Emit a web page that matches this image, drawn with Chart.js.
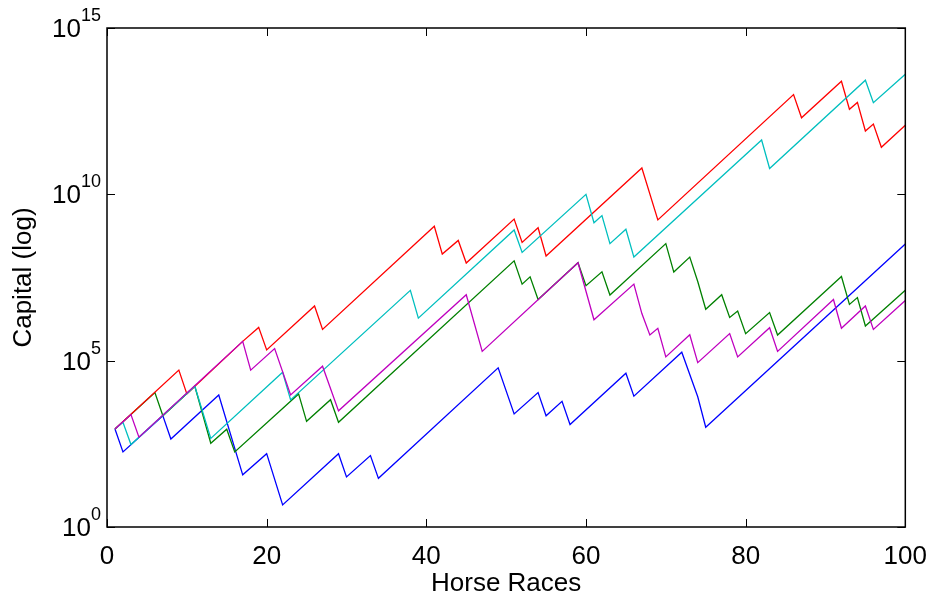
<!DOCTYPE html>
<html>
<head>
<meta charset="utf-8">
<script src="https://cdn.jsdelivr.net/npm/chart.js@4.4.0/dist/chart.umd.min.js"></script>
<style>
  html, body { margin: 0; padding: 0; background: #fff; }
  #wrap { width: 933px; height: 599px; }
</style>
</head>
<body>
<div id="wrap"><canvas id="raceChart"></canvas></div>
<script>
const xTicks = [0, 20, 40, 60, 80, 100];
const yTicks = [1, 1e5, 1e10, 1e15];
const yTickExp = ['0', '5', '10', '15'];

// turning points of each capital path (race number, capital)
const blueRaces = [1, 2, 7, 8, 14, 17, 20, 22, 29, 30, 33, 34, 49, 51, 54, 55, 57, 58, 65, 66, 72, 74, 75, 100];
const blueCapital = [8.8e2, 1.8e2, 2.2e3, 4.4e2, 9.3e3, 3.7e1, 1.6e2, 4.6, 1.6e2, 3.2e1, 1.4e2, 2.9e1, 6.1e4, 2.5e3, 1.1e4, 2.2e3, 6.0e3, 1.2e3, 4.2e4, 8.6e3, 1.8e5, 8.2e3, 1.0e3, 3.2e8];

const greenRaces = [1, 6, 7, 11, 13, 15, 16, 24, 25, 28, 29, 51, 52, 53, 54, 59, 60, 62, 63, 70, 71, 73, 74, 75, 77, 78, 79, 80, 83, 84, 92, 93, 94, 95, 100];
const greenCapital = [8.8e2, 1.1e4, 2.2e3, 1.7e4, 3.3e2, 8.7e2, 1.8e2, 1.0e4, 1.5e3, 6.7e3, 1.4e3, 1.0e8, 2.0e7, 3.3e7, 6.9e6, 8.8e7, 1.8e7, 4.7e7, 9.4e6, 3.3e8, 4.6e7, 1.3e8, 2.4e7, 3.5e6, 9.6e6, 2.0e6, 3.1e6, 6.5e5, 2.8e6, 5.9e5, 3.4e7, 4.9e6, 7.9e6, 1.1e6, 1.3e7];

const redRaces = [1, 9, 10, 17, 19, 20, 26, 27, 41, 42, 44, 45, 51, 52, 54, 55, 67, 69, 86, 87, 92, 93, 94, 95, 96, 97, 100];
const redCapital = [8.8e2, 5.2e4, 1.0e4, 3.8e5, 1.0e6, 2.1e5, 4.4e6, 8.7e5, 1.1e9, 1.6e8, 4.1e8, 8.6e7, 1.8e9, 3.6e8, 9.9e8, 1.4e8, 6.2e10, 1.7e9, 1.0e13, 2.0e12, 2.5e13, 3.6e12, 5.8e12, 8.0e11, 1.3e12, 2.6e11, 1.2e12];

const cyanRaces = [1, 2, 3, 11, 13, 22, 23, 38, 39, 51, 52, 60, 61, 62, 63, 65, 66, 82, 83, 95, 96, 100];
const cyanCapital = [8.8e2, 1.4e3, 3.0e2, 1.7e4, 4.6e2, 4.5e4, 6.6e3, 1.3e7, 1.9e6, 8.5e8, 1.8e8, 1.0e10, 1.4e9, 2.3e9, 3.3e8, 8.9e8, 1.3e8, 4.3e11, 6.0e10, 2.7e13, 5.7e12, 4.1e13];

const magentaRaces = [1, 3, 4, 17, 18, 21, 23, 27, 29, 45, 47, 59, 61, 66, 67, 68, 69, 70, 73, 74, 78, 79, 83, 84, 91, 92, 95, 96, 100];
const magentaCapital = [8.8e2, 2.4e3, 5.0e2, 3.8e5, 5.2e4, 2.3e5, 9.3e3, 6.8e4, 3.1e3, 9.6e6, 1.9e5, 8.8e7, 1.7e6, 2.0e7, 2.6e6, 5.9e5, 9.4e5, 1.3e5, 6.0e5, 8.7e4, 6.5e5, 1.3e5, 9.8e5, 1.9e5, 6.9e6, 9.4e5, 4.4e6, 8.7e5, 6.4e6];

const FONT = '"Liberation Sans", Arial, sans-serif';

function series(races, capital, color) {
    return {
        data: races.map((r, i) => ({ x: r, y: capital[i] })),
        borderColor: color,
        borderWidth: 1.3,
        pointRadius: 0,
        tension: 0,
        fill: false
    };
}

// frame, inward ticks and 10^n labels like the original figure
const framePlugin = {
    id: 'frame',
    afterDraw(chart) {
        const { ctx, chartArea: a, scales: { x, y } } = chart;
        ctx.save();
        ctx.strokeStyle = '#000';
        ctx.lineWidth = 1;
        xTicks.forEach(v => {
            const px = Math.round(x.getPixelForValue(v)) + 0.5;
            ctx.beginPath();
            ctx.moveTo(px, a.bottom); ctx.lineTo(px, a.bottom - 8);
            ctx.moveTo(px, a.top); ctx.lineTo(px, a.top + 8);
            ctx.stroke();
        });
        yTicks.forEach(v => {
            const py = Math.round(y.getPixelForValue(v)) + 0.5;
            ctx.beginPath();
            ctx.moveTo(a.left, py); ctx.lineTo(a.left + 8, py);
            ctx.moveTo(a.right, py); ctx.lineTo(a.right - 8, py);
            ctx.stroke();
        });
        ctx.lineWidth = 1.5;
        ctx.strokeRect(a.left, a.top, a.right - a.left, a.bottom - a.top);

        ctx.fillStyle = '#000';
        ctx.textBaseline = 'alphabetic';
        ctx.textAlign = 'left';
        yTicks.forEach((v, i) => {
            const py = y.getPixelForValue(v);
            ctx.font = '26px ' + FONT;
            const wBase = ctx.measureText('10').width;
            ctx.font = '18px ' + FONT;
            const wExp = ctx.measureText(yTickExp[i]).width;
            const x0 = a.left - 6 - wBase - wExp;
            ctx.font = '26px ' + FONT;
            ctx.fillText('10', x0, py + 9);
            ctx.font = '18px ' + FONT;
            ctx.fillText(yTickExp[i], x0 + wBase, py - 7);
        });
        ctx.restore();
    }
};

new Chart(document.getElementById('raceChart'), {
    type: 'line',
    data: {
        datasets: [
            series(magentaRaces, magentaCapital, '#bf00bf'),
            series(cyanRaces, cyanCapital, '#00bfbf'),
            series(redRaces, redCapital, '#ff0000'),
            series(greenRaces, greenCapital, '#008000'),
            series(blueRaces, blueCapital, '#0000ff')
        ]
    },
    options: {
        responsive: true,
        maintainAspectRatio: false,
        animation: false,
        layout: { padding: { top: 28, right: 26, bottom: 0, left: 0 } },
        plugins: { legend: { display: false }, tooltip: { enabled: false } },
        scales: {
            x: {
                type: 'linear',
                min: 0,
                max: 100,
                afterBuildTicks: s => { s.ticks = xTicks.map(v => ({ value: v })); },
                afterFit: s => { s.height = 72; },
                grid: { display: false },
                border: { display: false },
                ticks: { color: '#000', font: { family: FONT, size: 26 }, padding: 6, maxRotation: 0 },
                title: {
                    display: true,
                    text: 'Horse Races',
                    color: '#000',
                    font: { family: FONT, size: 26 },
                    padding: { top: 0, bottom: 0 }
                }
            },
            y: {
                type: 'logarithmic',
                min: 1,
                max: 1e15,
                afterBuildTicks: s => { s.ticks = yTicks.map(v => ({ value: v })); },
                afterFit: s => { s.width = 107; },
                grid: { display: false },
                border: { display: false },
                ticks: { display: false },
                title: {
                    display: true,
                    text: 'Capital (log)',
                    color: '#000',
                    font: { family: FONT, size: 26 },
                    padding: { top: 8, bottom: 0 }
                }
            }
        }
    },
    plugins: [framePlugin]
});
</script>
</body>
</html>
